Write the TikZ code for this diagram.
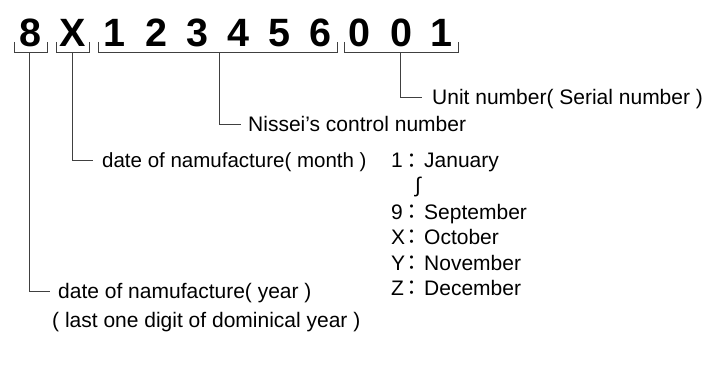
\documentclass[tikz,border=0pt]{standalone}
\usepackage{fontspec}
\setmainfont{Liberation Sans}
\newfontfamily\cjk{Noto Sans CJK JP}
\begin{document}
\begin{tikzpicture}[x=1pt,y=-1pt,
  digit/.style={font=\fontsize{39.5}{42}\selectfont\bfseries, inner sep=0pt, anchor=base},
  lbl/.style={font=\fontsize{21}{24}\selectfont, inner sep=0pt, anchor=west, text height=14pt, text depth=0pt},
  colon/.style={font=\fontsize{21}{24}\selectfont\cjk, inner sep=0pt, anchor=center},
  conn/.style={draw=black!75, line width=1pt},
  brace/.style={draw=black!75, line width=1pt},
]
\useasboundingbox (0,0) rectangle (711,371);

% serial digits
\node[digit] (d8) at (30,47) {8};
\node[digit] (dX) at (73,47) {X};
\node[digit] (n1) at (114,47) {1};
\node[digit] (n2) at (156,47) {2};
\node[digit] (n3) at (197,47) {3};
\node[digit] (n4) at (238,47) {4};
\node[digit] (n5) at (279,47) {5};
\node[digit] (n6) at (320,47) {6};
\node[digit] (s1) at (359,47) {0};
\node[digit] (s2) at (401,47) {0};
\node[digit] (s3) at (441,47) {1};

% brackets
\draw[brace] (14,42) -- (14,53) -- (47,53) -- (47,42);
\draw[brace] (56,42) -- (56,53) -- (89,53) -- (89,42);
\draw[brace] (98,42) -- (98,53) -- (337,53) -- (337,42);
\draw[brace] (344,42) -- (344,53) -- (458,53) -- (458,42);
\coordinate (b8) at (29,53);
\coordinate (bX) at (72,53);
\coordinate (bN) at (219,53);
\coordinate (bS) at (400,53);

% labels
\node[lbl] (unit) at (432,98) {Unit number( Serial number )};
\node[lbl] (nissei) at (248,125) {Nissei\char"27 s control number};
\node[lbl, font=\fontsize{20.5}{24}\selectfont] (month) at (102,161) {date of namufacture( month )};
\node[lbl] (year) at (58,291) {date of namufacture( year )};
\node[lbl] (year2) at (52,320) {( last one digit of dominical year )};

% connectors
\draw[conn] (bS) |- ([xshift=-10pt]unit.west);
\draw[conn] (bN) |- ([xshift=-7pt]nissei.west);
\draw[conn] (bX) |- ([xshift=-9pt]month.west);
\draw[conn] (b8) |- ([xshift=-8pt]year.west);

% month table
\node[lbl] (k1) at (391,161) {1};
\node[colon] (c1) at (412,161) {：};
\node[lbl] (m1) at (424,161) {January};
\node[inner sep=0pt, font=\fontsize{21}{24}\selectfont] (sq) at (418,186.5) {∫};
\node[lbl] (k9) at (391,212) {9};
\node[colon] (c9) at (412,212) {：};
\node[lbl] (m9) at (424,212) {September};
\node[lbl] (kX) at (391,237.5) {X};
\node[colon] (cX) at (412,237.5) {：};
\node[lbl] (mX) at (424,237.5) {October};
\node[lbl] (kY) at (391,263) {Y};
\node[colon] (cY) at (412,263) {：};
\node[lbl] (mY) at (424,263) {November};
\node[lbl] (kZ) at (391,288.5) {Z};
\node[colon] (cZ) at (412,288.5) {：};
\node[lbl] (mZ) at (424,288.5) {December};
\end{tikzpicture}
\end{document}
